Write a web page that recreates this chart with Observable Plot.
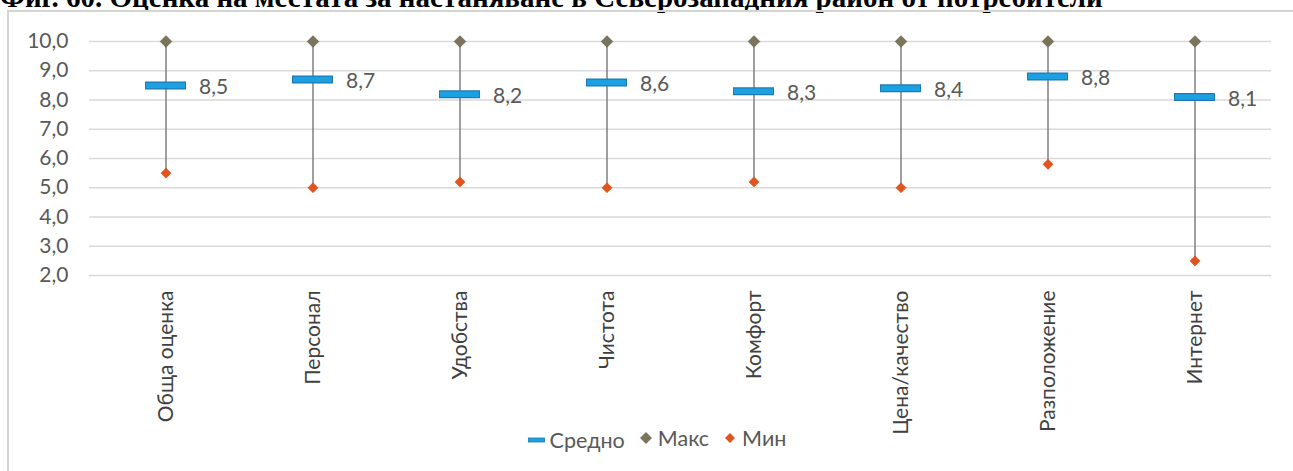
<!DOCTYPE html>
<html>
<head>
<meta charset="utf-8">
<script src="https://cdn.jsdelivr.net/npm/d3@7"></script>
<script src="https://cdn.jsdelivr.net/npm/@observablehq/plot@0.6"></script>
<style>
  html, body { margin: 0; padding: 0; background: #fff; }
  body { width: 1293px; height: 471px; position: relative; overflow: hidden; font-family: Lato, sans-serif; }
  #title { position: absolute; left: 0; top: -17px; white-space: nowrap; font-family: "Liberation Serif", serif; font-weight: bold; font-size: 29px; line-height: 1; color: #000; }
  #frame { position: absolute; left: 7px; top: 10px; width: 1300px; height: 480px; border-top: 2px solid #d4d4d4; border-left: 2px solid #d4d4d4; box-sizing: border-box; }
  #chart { position: absolute; left: 0; top: 0; }
  #legend { position: absolute; top: 424px; left: 0; width: 1314px; text-align: center; font-size: 21.5px; color: #595959; white-space: nowrap; }
  #legend span.item { display: inline-flex; align-items: center; margin: 0 7px; }
  #legend svg { margin-right: 5px; }
</style>
</head>
<body>
<div id="title">Фиг. 60. Оценка на местата за настаняване в Северозападния район от потребители</div>
<div id="frame"></div>
<div id="chart"></div>
<div id="legend"></div>
<script>
const categories = ["Обща оценка", "Персонал", "Удобства", "Чистота", "Комфорт", "Цена/качество", "Разположение", "Интернет"];
const meanValues = [8.5, 8.7, 8.2, 8.6, 8.3, 8.4, 8.8, 8.1];
const maxValues = [10, 10, 10, 10, 10, 10, 10, 10];
const minValues = [5.5, 5.0, 5.2, 5.0, 5.2, 5.0, 5.8, 2.5];
const yTicks = [2, 3, 4, 5, 6, 7, 8, 9, 10];
const seriesNames = ["Средно", "Макс", "Мин"];

const rows = categories.map((c, i) => ({cat: c, mean: meanValues[i], max: maxValues[i], min: minValues[i]}));
const fmt = d => d.toFixed(1).replace(".", ",");

const blue = "#1ba1e2", blueDark = "#1f78b4", maxCol = "#7a745c", minCol = "#e2531f";

const plot = Plot.plot({
  width: 1293,
  height: 471,
  marginLeft: 89,
  marginRight: 22,
  marginTop: 41,
  marginBottom: 196,
  style: {fontFamily: "Lato, sans-serif", background: "transparent", color: "#595959"},
  x: {domain: categories, padding: 0},
  y: {domain: [2, 10]},
  marks: [
    Plot.gridY(yTicks, {stroke: "#d9d9d9", strokeOpacity: 1, strokeWidth: 1.3}),
    Plot.axisY({ticks: yTicks, tickFormat: fmt, tickSize: 0, tickPadding: 21, fontSize: 21, fill: "#595959"}),
    Plot.axisX({tickRotate: -90, tickSize: 0, tickPadding: 15, fontSize: 21, fill: "#404040", label: null}),
    Plot.ruleX(rows, {x: "cat", y1: "min", y2: "max", stroke: "#7f7f7f", strokeWidth: 1.5}),
    Plot.tickY(rows, {x: "cat", y: "mean", stroke: blueDark, strokeWidth: 8, insetLeft: 53, insetRight: 53}),
    Plot.tickY(rows, {x: "cat", y: "mean", stroke: blue, strokeWidth: 5.5, insetLeft: 54, insetRight: 54}),
    Plot.dot(rows, {x: "cat", y: "max", symbol: "diamond2", r: 5.2, fill: maxCol, stroke: "#6a6650", strokeWidth: 0.8}),
    Plot.dot(rows, {x: "cat", y: "min", symbol: "diamond2", r: 4.6, fill: minCol, stroke: "#d04a18", strokeWidth: 0.5}),
    Plot.text(rows, {x: "cat", y: "mean", text: d => fmt(d.mean), textAnchor: "start", dx: 33, dy: 2, fontSize: 21, fill: "#595959"})
  ]
});
document.getElementById("chart").appendChild(plot);

// legend
const legend = document.getElementById("legend");
const swatches = [
  `<svg width="17" height="10"><rect x="0.5" y="3" width="16" height="4" fill="${blue}" stroke="${blueDark}" stroke-width="0.8"/></svg>`,
  `<svg width="14" height="14"><path d="M7 1 L13 7 L7 13 L1 7 Z" fill="${maxCol}"/></svg>`,
  `<svg width="14" height="14"><path d="M7 2 L12 7 L7 12 L2 7 Z" fill="${minCol}"/></svg>`
];
seriesNames.forEach((n, i) => {
  const s = document.createElement("span");
  s.className = "item";
  s.innerHTML = swatches[i] + n;
  legend.appendChild(s);
});
</script>
</body>
</html>
